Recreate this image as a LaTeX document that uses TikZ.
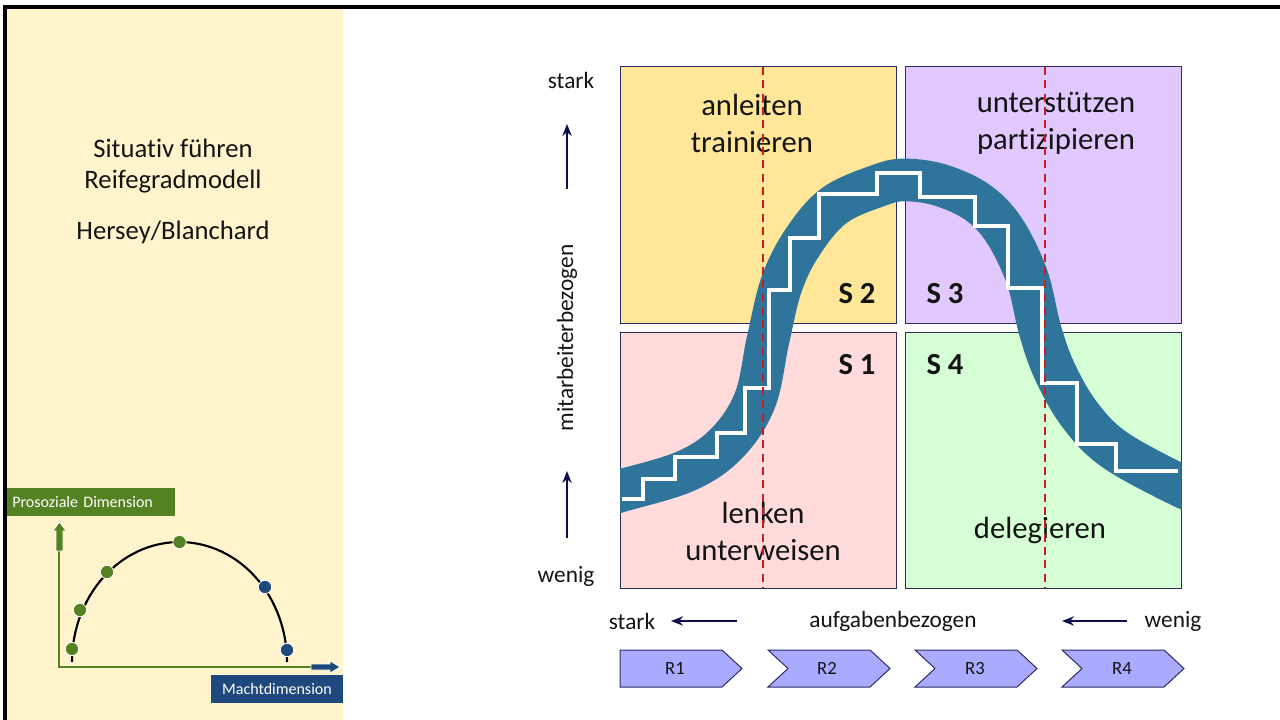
\documentclass[tikz,border=0pt]{standalone}
\usepackage{fontspec}
\setmainfont{Carlito}[Ligatures={NoCommon,NoRequired,NoContextual}]
\definecolor{panelCream}{RGB}{255,244,204}
\definecolor{quadYellow}{RGB}{255,230,153}
\definecolor{quadViolet}{RGB}{225,201,255}
\definecolor{quadRose}{RGB}{255,219,219}
\definecolor{quadMint}{RGB}{214,255,214}
\definecolor{quadEdge}{RGB}{45,45,100}
\definecolor{bandBlue}{RGB}{47,117,155}
\definecolor{dashRed}{RGB}{200,30,35}
\definecolor{chevronBlue}{RGB}{170,170,255}
\definecolor{arrowNavy}{RGB}{15,15,80}
\definecolor{socialGreen}{RGB}{84,130,35}
\definecolor{powerBlue}{RGB}{31,73,125}
\definecolor{inkBlack}{RGB}{20,20,20}
\usetikzlibrary{arrows.meta,positioning,calc}

\begin{document}
\begin{tikzpicture}[
    x=0.75pt, y=-0.75pt,
    every node/.style={inner sep=0pt, text=inkBlack},
    quad/.style={draw=quadEdge, line width=0.75pt, minimum width=207pt, minimum height=192pt},
    quadtext/.style={font=\fontsize{23}{28}\selectfont, align=center},
    stylelabel/.style={font=\fontsize{23}{28}\selectfont\bfseries},
    axislabel/.style={font=\fontsize{17.5}{20}\selectfont},
    arr/.style={-{Stealth[length=9pt,width=7pt]}, line width=1.6pt, draw=arrowNavy},
    chevron/.style={draw=quadEdge, line width=0.75pt, fill=chevronBlue},
    chevtext/.style={font=\fontsize{14}{16}\selectfont},
    band/.style={draw=bandBlue, line width=32pt, line join=round},
    stairs/.style={draw=white, line width=3pt},
    dashline/.style={draw=dashRed, line width=1.4pt, dash pattern=on 6pt off 4pt},
    dot/.style={circle, draw=white, line width=0.6pt, minimum size=10pt},
    tagbox/.style={text=white, font=\fontsize{12}{14}\selectfont, minimum height=21pt}
  ]
  \useasboundingbox (0,0) rectangle (1280,720);

  % side panel and frame
  \fill[panelCream] (7,9) rectangle (343,720);
  \draw[line width=2.4pt] (5,720) -- (5,7) -- (1280,7);

  \node[font=\fontsize{20}{23.5}\selectfont, align=center] (title) at (173,166)
    {Situativ führen\\Reifegradmodell};
  \node[font=\fontsize{20}{23.5}\selectfont] (authors) at (173,232) {Hersey/Blanchard};

  % small power/prosocial chart
  \node[tagbox, fill=socialGreen, minimum width=126pt, text width=118pt, align=left]
    (prosoz) at (91,502) {Prosoziale Dimension};
  \node[tagbox, fill=powerBlue, minimum width=99pt] (macht) at (277,689) {Machtdimension};
  \draw[socialGreen, line width=1.6pt] (59,667) -- (59,548);
  \draw[socialGreen, line width=1.6pt] (58,667) -- (314,667);
  \filldraw[socialGreen, draw=white, line width=0.5pt]
    (56,551) -- (56,531) -- (53,531) -- (59.5,522) -- (66,531) -- (63,531) -- (63,551) -- cycle;
  \filldraw[powerBlue, draw=white, line width=0.5pt]
    (311,664) -- (330,664) -- (330,661) -- (340,667) -- (330,673) -- (330,670) -- (311,670) -- cycle;
  \draw[line width=1.6pt] plot[domain=180:360, samples=60] ({179.5+107.5*cos(\x)},{662+120*sin(\x)});
  \node[dot, fill=socialGreen] (g1) at (72,649) {};
  \node[dot, fill=socialGreen] (g2) at (80,610) {};
  \node[dot, fill=socialGreen] (g3) at (107,572) {};
  \node[dot, fill=socialGreen] (g4) at (179.5,542) {};
  \node[dot, fill=powerBlue] (b1) at (265,587) {};
  \node[dot, fill=powerBlue] (b2) at (287,650) {};

  % four leadership quadrants
  \node[quad, fill=quadYellow] (s2box) at (758.5,195) {};
  \node[quad, fill=quadViolet] (s3box) at (1043.5,195) {};
  \node[quad, fill=quadRose] (s1box) at (758.5,460) {};
  \node[quad, fill=quadMint] (s4box) at (1043.5,460) {};

  \node[quadtext] (s2txt) at (752,123.5) {anleiten\\trainieren};
  \node[quadtext] (s3txt) at (1056,123.5) {unterstützen\\partizipieren};
  \node[quadtext] (s1txt) at (763,531.5) {lenken\\unterweisen};
  \node[quadtext] (s4txt) at (1040,530) {delegieren};

  \node[stylelabel] (s2) at (857,294) {S 2};
  \node[stylelabel] (s3) at (945,294) {S 3};
  \node[stylelabel] (s1) at (857,365) {S 1};
  \node[stylelabel] (s4) at (945,365) {S 4};

  % bell-shaped band with the staircase on it
  \begin{scope}
    \clip (620,0) rectangle (1181.5,720);
    \draw[band] plot[smooth, tension=0.6] coordinates {
      (600,497) (620,491) (686,471) (727,443) (755,400) (768,340) (782,283)
      (804,240) (835,205) (880,185) (905,180) (940,185) (977,202) (1004,230)
      (1027,277) (1040,330) (1055,372) (1080,415) (1115,450) (1181,486) (1200,492)};
  \end{scope}
  \draw[stairs] (622,499) -- (643,499) -- (643,479) -- (675,479) -- (675,457)
    -- (717,457) -- (717,433) -- (745,433) -- (745,388) -- (769,388) -- (769,290)
    -- (790,290) -- (790,238) -- (819,238) -- (819,194) -- (877,194) -- (877,173)
    -- (920,173) -- (920,197) -- (975,197) -- (975,226) -- (1008,226) -- (1008,288)
    -- (1042,288) -- (1042,383) -- (1077,383) -- (1077,444) -- (1116,444)
    -- (1116,471) -- (1178,471);

  \coordinate (cutA) at (763,67);
  \coordinate (cutB) at (763,588);
  \coordinate (cutC) at (1045,67);
  \coordinate (cutD) at (1045,588);
  \draw[dashline] (cutA) -- (cutB);
  \draw[dashline] (cutC) -- (cutD);

  % employee-oriented axis
  \node[axislabel] (ystark) at (571,80) {stark};
  \node[axislabel] (ywenig) at (566,576) {wenig};
  \node[axislabel, rotate=90] (yname) at (567,338) {mitarbeiterbezogen};
  \coordinate (yupA) at (567,189);
  \coordinate (yupB) at (567,124);
  \coordinate (ylowA) at (567,538);
  \coordinate (ylowB) at (567,471);
  \draw[arr] (yupA) -- (yupB);
  \draw[arr] (ylowA) -- (ylowB);

  % task-oriented axis
  \node[axislabel] (xstark) at (632,621) {stark};
  \node[axislabel] (xname) at (893,621) {aufgabenbezogen};
  \node[axislabel] (xwenig) at (1173,621) {wenig};
  \coordinate (xleftA) at (737,621);
  \coordinate (xleftB) at (671,621);
  \coordinate (xrightA) at (1127,621);
  \coordinate (xrightB) at (1062,621);
  \draw[arr] (xleftA) -- (xleftB);
  \draw[arr] (xrightA) -- (xrightB);

  % maturity levels
  \draw[chevron] (620,650) -- (722,650) -- (742,668.5) -- (722,687) -- (620,687) -- cycle;
  \draw[chevron] (768,650) -- (870,650) -- (890,668.5) -- (870,687) -- (768,687) -- (788,668.5) -- cycle;
  \draw[chevron] (915,650) -- (1017,650) -- (1037,668.5) -- (1017,687) -- (915,687) -- (935,668.5) -- cycle;
  \draw[chevron] (1062,650) -- (1164,650) -- (1184,668.5) -- (1164,687) -- (1062,687) -- (1082,668.5) -- cycle;
  \node[chevtext] (r1) at (675,668.5) {R1};
  \node[chevtext] (r2) at (827,668.5) {R2};
  \node[chevtext] (r3) at (975,668.5) {R3};
  \node[chevtext] (r4) at (1122,668.5) {R4};
\end{tikzpicture}
\end{document}
